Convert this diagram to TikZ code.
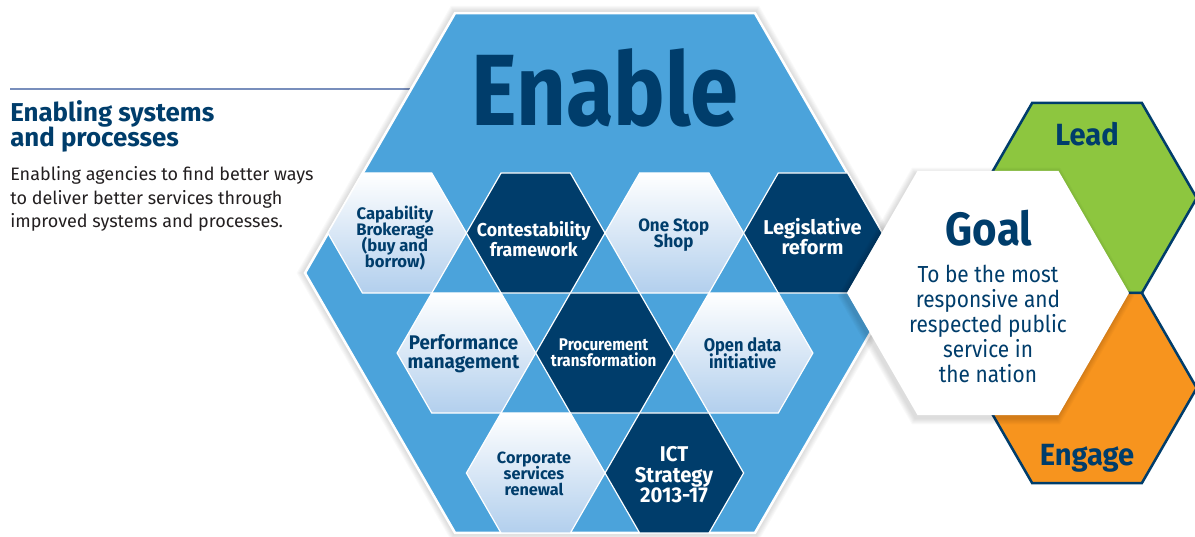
\documentclass[tikz,border=0pt]{standalone}
\usepackage{fontspec}
\setmainfont{Fira Sans}
\newfontfamily\firaE[FakeStretch=0.855]{Fira Sans}
\newfontfamily\firaN[FakeStretch=0.9]{Fira Sans}
\newfontfamily\firaM[FakeStretch=0.95]{Fira Sans}
\newfontfamily\firaW{Fira Sans}
\usetikzlibrary{shapes.geometric}
\definecolor{enblue}{RGB}{75,163,219}
\definecolor{navy}{RGB}{0,61,107}
\definecolor{lightb}{RGB}{178,207,237}
\definecolor{leadgreen}{RGB}{141,198,63}
\definecolor{engorange}{RGB}{247,148,30}
\definecolor{rulec}{RGB}{120,142,188}
\definecolor{bodytext}{RGB}{35,31,32}
\newcommand{\fsz}[2]{\fontsize{#1}{#2}\selectfont\lineskiplimit=-30pt\relax}
\begin{document}
\begin{tikzpicture}[x=0.75pt,y=-0.75pt,
  hexshape/.style={regular polygon, regular polygon sides=6, inner sep=0pt, outer sep=0pt},
  smallhex/.style={hexshape, minimum size=103.95pt, draw=white, line width=0.9pt},
  darkhex/.style={smallhex, fill=navy},
  lighthex/.style={smallhex, top color=white, middle color=white, bottom color=lightb},
  glow/.style={hexshape, draw=none, fill=black, fill opacity=0.022},
  lbl/.style={align=center, inner sep=0pt},
  navylbl/.style={lbl, text=navy},
  whitelbl/.style={lbl, text=white},
  sidehex/.style={hexshape, minimum size=164.6pt, draw=navy, line width=1.9pt}
]
\useasboundingbox (0,0) rectangle (1195,536);

% left title and rule
\coordinate (ruleL) at (10,89);
\coordinate (ruleR) at (415,89);
\draw[rulec, line width=2.2pt] (ruleL) -- (ruleR);
\node[anchor=west, align=left, inner sep=0pt, text=navy,
  font=\firaW\bfseries\fsz{19.4}{18.75}] (head) at (10,126)
  {Enabling systems\\and processes};
\node[anchor=west, align=left, inner sep=0pt, text=bodytext,
  font=\firaW\fsz{13.5}{17.6}] (body) at (10,199)
  {Enabling agencies to find better ways\\to deliver better services through\\improved systems and processes.};

% big Enable hexagon with soft shadow
\coordinate (cen) at (605,273);
\foreach \k in {1,...,7}
  \node[glow, minimum size={(600+2.4*\k)*0.75pt}] at (cen) {};
\node[hexshape, minimum size=450pt, fill=enblue, draw=white, line width=1.9pt] (enable) at (cen) {};
\node[anchor=base, inner sep=0pt, text=navy, font=\firaE\bfseries\fsz{76}{76}] (enabletxt) at (605,125) {Enable};

% row 1
\node[lighthex] (cap) at (397.1,233) {};
\node[darkhex]  (cont) at (535.7,233) {};
\node[lighthex] (oss) at (674.3,233) {};
\node[darkhex]  (leg) at (812.9,233) {};
% row 2
\node[lighthex] (perf) at (466.4,353) {};
\node[darkhex]  (proc) at (605,353) {};
\node[lighthex] (open) at (743.6,353) {};
% row 3
\node[lighthex] (corp) at (535.7,473) {};
\node[darkhex]  (ict) at (674.3,473) {};

\node[navylbl, font=\firaW\bfseries\fsz{12.5}{12.2}] (capt) at (395,238) {Capability\\Brokerage\\(buy and\\borrow)};
\node[whitelbl, font=\firaM\bfseries\fsz{14}{15}] (contt) at (533.7,239.5) {Contestability\\framework};
\node[navylbl, font=\firaM\bfseries\fsz{13.4}{12.4}] (osst) at (673.7,235) {One Stop\\Shop};
\node[whitelbl, font=\firaW\bfseries\fsz{15}{15}] (legt) at (812.5,237) {Legislative\\reform};
\node[navylbl, font=\firaM\bfseries\fsz{14.8}{14}] (perft) at (463.5,354) {Performance\\management};
\node[whitelbl, font=\firaN\bfseries\fsz{12.7}{11.8}] (proct) at (603.6,353) {Procurement\\transformation};
\node[navylbl, font=\firaN\bfseries\fsz{13.7}{12.6}] (opent) at (742.6,353) {Open data\\initiative};
\node[navylbl, font=\firaW\bfseries\fsz{12.2}{12.2}] (corpt) at (534,474) {Corporate\\services\\renewal};
\node[whitelbl, font=\firaM\bfseries\fsz{16}{15.4}] (ictt) at (674,474.7) {ICT\\Strategy\\2013-17};

% Lead and Engage
\node[sidehex, fill=leadgreen] (lead) at (1087,198) {};
\node[sidehex, fill=engorange] (engage) at (1087,388) {};
\node[anchor=base, inner sep=0pt, text=navy, font=\firaM\bfseries\fsz{23}{23}] (leadt) at (1087,145) {Lead};
\node[anchor=base, inner sep=0pt, text=navy, font=\firaM\bfseries\fsz{23}{23}] (engaget) at (1087,465) {Engage};

% Goal hexagon with shadow
\coordinate (gcen) at (988,293);
\coordinate (gsh) at (986,296);
\foreach \k in {1,...,6}
  \node[glow, minimum size={(282+2.4*\k)*0.75pt}] at (gsh) {};
\node[hexshape, minimum size=211.5pt, fill=white] (goal) at (gcen) {};
\node[anchor=base, inner sep=0pt, text=navy, font=\firaN\bfseries\fsz{35}{35}] (goalt) at (989,245) {Goal};
\node[navylbl, font=\firaN\fsz{17.4}{18.75}] (goalsub) at (988,324) {To be the most\\responsive and\\respected public\\service in\\the nation};
\end{tikzpicture}
\end{document}
